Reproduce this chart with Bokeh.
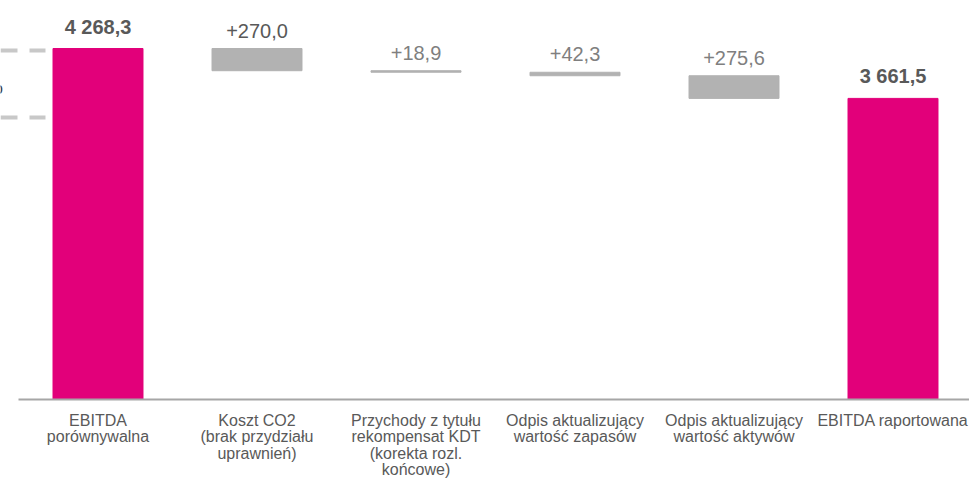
from bokeh.plotting import figure
from bokeh.models import Range1d, ColumnDataSource
from bokeh.embed import file_html
from bokeh.resources import INLINE
from bokeh.core.properties import value

categories = [
    "EBITDA\nporównywalna",
    "Koszt CO2\n(brak przydziału\nuprawnień)",
    "Przychody z tytułu\nrekompensat KDT\n(korekta rozl.\nkońcowe)",
    "Odpis aktualizujący\nwartość zapasów",
    "Odpis aktualizujący\nwartość aktywów",
    "EBITDA raportowana",
]
values = [4268.3, -270.0, -18.9, -42.3, -275.6, 3661.5]
kinds = ["total", "delta", "delta", "delta", "delta", "total"]
value_labels = ["4 268,3", "+270,0", "+18,9", "+42,3", "+275,6", "3 661,5"]

MAGENTA = "#E2007A"
GREY = "#B2B2B2"
TEXT = "#595959"
TEXT_LIGHT = "#7F7F7F"

xs, bottoms, tops, colors, styles, lcolors = [], [], [], [], [], []
running = 0.0
for i, (v, k) in enumerate(zip(values, kinds)):
    xs.append(i)
    if k == "total":
        bottoms.append(0.0)
        tops.append(v)
        running = v
        colors.append(MAGENTA)
        styles.append("bold")
        lcolors.append(TEXT)
    else:
        tops.append(running)
        bottoms.append(running + v)
        running += v
        colors.append(GREY)
        styles.append("normal")
        lcolors.append(TEXT if i == 1 else TEXT_LIGHT)

src = ColumnDataSource(dict(x=xs, bottom=bottoms, top=tops, color=colors,
                            label=value_labels, style=styles, lcolor=lcolors))

px_per_unit = 351 / 4268.3
y_start = -81 / px_per_unit
y_end = 399 / px_per_unit

p = figure(width=969, height=480, output_backend="svg", toolbar_location=None,
           x_range=Range1d(-0.5 - 18 / 159, 5.5 - 3 / 159),
           y_range=Range1d(y_start, y_end),
           min_border_left=0, min_border_right=0, min_border_top=0, min_border_bottom=0)
p.outline_line_color = None
p.background_fill_color = "white"
p.border_fill_color = "white"
p.xgrid.visible = False
p.ygrid.visible = False
p.yaxis.visible = False
p.xaxis.visible = False

p.vbar(x="x", width=0.566, bottom="bottom", top="top", color="color", source=src)
p.text(x="x", y="top", text="label", source=src, text_align="center",
       text_baseline="bottom", y_offset=-11, text_font=value("Liberation Sans"),
       text_font_size="20px", text_font_style="style", text_color="lcolor")

# baseline of the waterfall
p.segment(x0=[-0.5], y0=[0], x1=[5.5], y1=[0], line_color="#A6A6A6", line_width=2)

# cut-off decoration at the left edge
deco_y = [4244, 3429]
p.segment(x0=[-0.5 - 18 / 159] * 2, y0=deco_y, x1=[-0.5 + 27 / 159] * 2, y1=deco_y,
          line_color="#C8C8C8", line_width=4, line_dash="17 12")
p.text(x=[-0.5 - 15.5 / 159], y=[3782], text=["o"], text_align="right",
       text_baseline="middle", text_font=value("Liberation Sans"),
       text_font_size="17px", text_color="#404040")

# category labels below the baseline
cat_src = ColumnDataSource(dict(x=list(range(len(categories))),
                                y=[0.0] * len(categories), text=categories))
p.text(x="x", y="y", text="text", source=cat_src, text_align="center",
       text_baseline="top", y_offset=12, text_font=value("Liberation Sans"),
       text_font_size="16px", text_color=TEXT, text_line_height=0.98)

open("out.html", "w").write(file_html(p, INLINE))
